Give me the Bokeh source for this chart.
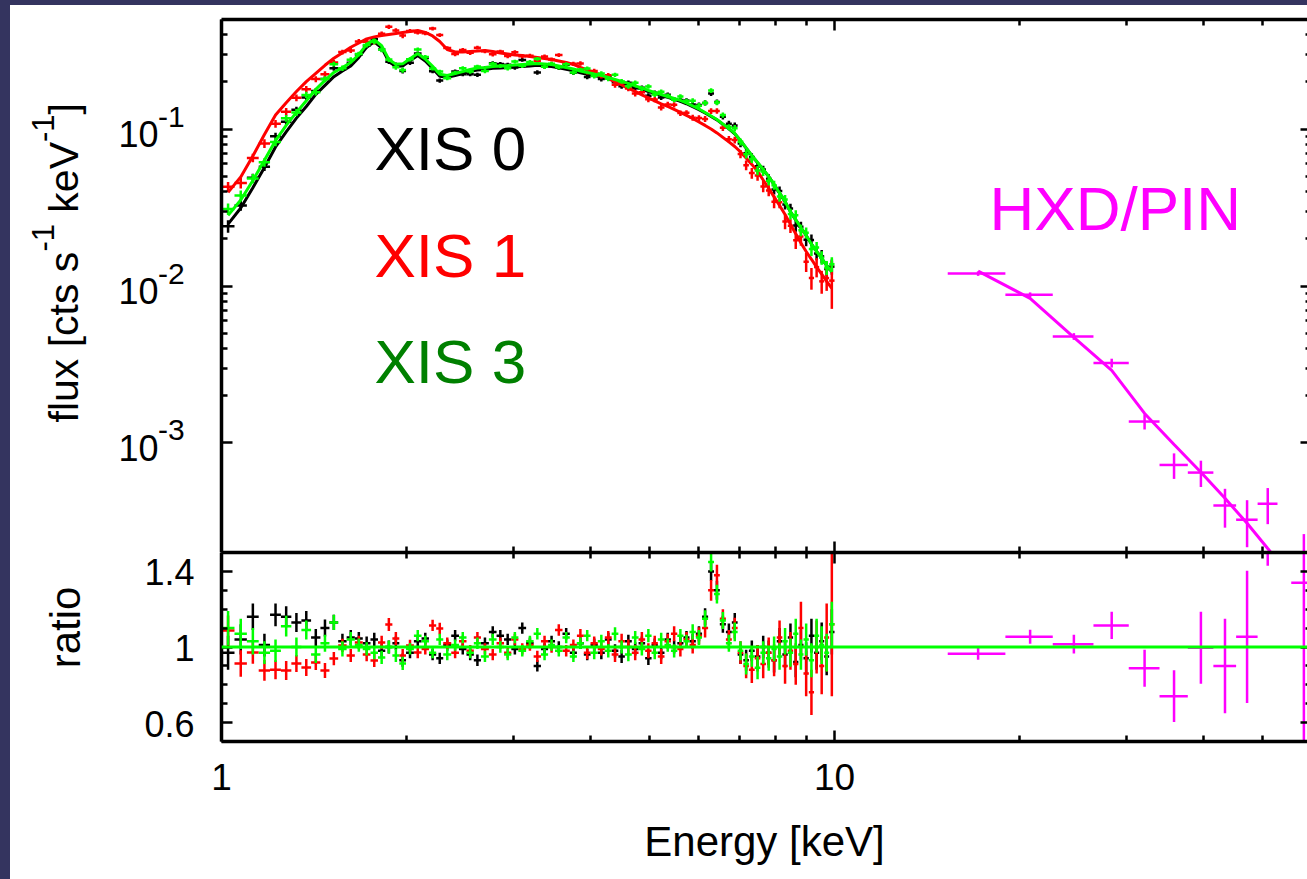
import math
import numpy as np
from bokeh.plotting import figure
from bokeh.layouts import column, row, Spacer
from bokeh.models import (LogAxis, LinearAxis, Range1d, FixedTicker, Label, Span,
                          CustomJSTickFormatter)
from bokeh.core.properties import value
from bokeh.embed import file_html
from bokeh.resources import INLINE

FONT = "Liberation Sans"
NAVY = "#34345f"

# ---------------- data ----------------
# XIS spectral bin edges [keV]
xis_edges = [
    1.00, 1.05, 1.10, 1.15, 1.20, 1.25, 1.30, 1.35, 1.40, 1.45,
    1.50, 1.55, 1.60, 1.65, 1.70, 1.75, 1.80, 1.85, 1.90, 1.95,
    2.00, 2.06, 2.12, 2.18, 2.24, 2.30, 2.37, 2.44, 2.51, 2.58,
    2.65, 2.73, 2.81, 2.89, 2.97, 3.05, 3.14, 3.23, 3.32, 3.41,
    3.50, 3.60, 3.70, 3.80, 3.90, 4.00, 4.11, 4.22, 4.33, 4.44,
    4.55, 4.67, 4.79, 4.91, 5.03, 5.15, 5.28, 5.41, 5.54, 5.67,
    5.80, 5.94, 6.08, 6.22, 6.36, 6.50, 6.65, 6.80, 6.95, 7.10,
    7.25, 7.41, 7.57, 7.73, 7.89, 8.05, 8.22, 8.39, 8.56, 8.73,
    8.90, 9.08, 9.26, 9.44, 9.62, 9.80, 10.0]

# folded model [cts/s/keV] at bin centres
xis0_model = [
    0.0248, 0.0314, 0.0423, 0.0570, 0.0770, 0.0961, 0.1176, 0.1395, 0.1666, 0.1901,
    0.2160, 0.2348, 0.2528, 0.2866, 0.3331, 0.3602, 0.3299, 0.2694, 0.2517, 0.2529,
    0.2730, 0.2947, 0.2718, 0.2439, 0.2171, 0.2140, 0.2200, 0.2265, 0.2335, 0.2385,
    0.2400, 0.2440, 0.2455, 0.2475, 0.2495, 0.2510, 0.2530, 0.2550, 0.2530, 0.2510,
    0.2460, 0.2405, 0.2355, 0.2290, 0.2240, 0.2195, 0.2150, 0.2090, 0.2030, 0.1975,
    0.1920, 0.1850, 0.1800, 0.1735, 0.1690, 0.1640, 0.1595, 0.1550, 0.1505, 0.1452,
    0.1392, 0.1332, 0.1267, 0.1204, 0.1145, 0.1072, 0.1004, 0.0934, 0.0843, 0.0756,
    0.0678, 0.0611, 0.0552, 0.0498, 0.0443, 0.0391, 0.0345, 0.0297, 0.0264, 0.0236,
    0.0210, 0.0185, 0.0166, 0.0150, 0.0135, 0.0123]
xis1_model = [
    0.0395, 0.0496, 0.0675, 0.0925, 0.1230, 0.1475, 0.1736, 0.2010, 0.2271, 0.2554,
    0.2830, 0.3074, 0.3327, 0.3540, 0.3760, 0.3875, 0.3955, 0.4014, 0.4073, 0.4133,
    0.4195, 0.4257, 0.4133, 0.3926, 0.3622, 0.3221, 0.3105, 0.3105, 0.3128, 0.3151,
    0.3174, 0.3128, 0.3060, 0.3015, 0.2971, 0.2949, 0.2906, 0.2864, 0.2822, 0.2781,
    0.2721, 0.2661, 0.2584, 0.2472, 0.2384, 0.2298, 0.2200, 0.2104, 0.1999, 0.1912,
    0.1817, 0.1739, 0.1652, 0.1581, 0.1513, 0.1447, 0.1395, 0.1335, 0.1278, 0.1223,
    0.1170, 0.1111, 0.1056, 0.1003, 0.0946, 0.0886, 0.0829, 0.0775, 0.0716, 0.0655,
    0.0596, 0.0538, 0.0474, 0.0419, 0.0370, 0.0326, 0.0286, 0.0247, 0.0215, 0.0188,
    0.0166, 0.0148, 0.0132, 0.0119, 0.0107, 0.00966]
xis3_model = [
    0.0282, 0.0353, 0.0470, 0.0633, 0.0846, 0.1056, 0.1278, 0.1516, 0.1791, 0.2044,
    0.2298, 0.2472, 0.2661, 0.2985, 0.3470, 0.3713, 0.3401, 0.2777, 0.2595, 0.2607,
    0.2814, 0.3038, 0.2802, 0.2514, 0.2238, 0.2200, 0.2265, 0.2332, 0.2401, 0.2455,
    0.2472, 0.2510, 0.2528, 0.2547, 0.2566, 0.2584, 0.2603, 0.2622, 0.2603, 0.2584,
    0.2528, 0.2472, 0.2419, 0.2349, 0.2298, 0.2248, 0.2200, 0.2136, 0.2074, 0.2014,
    0.1956, 0.1885, 0.1831, 0.1764, 0.1714, 0.1664, 0.1616, 0.1569, 0.1524, 0.1469,
    0.1406, 0.1345, 0.1278, 0.1214, 0.1153, 0.1079, 0.1010, 0.0939, 0.0847, 0.0759,
    0.0680, 0.0613, 0.0553, 0.0499, 0.0444, 0.0392, 0.0346, 0.0297, 0.0264, 0.0236,
    0.0210, 0.0185, 0.0166, 0.0150, 0.0135, 0.0123]

# data / model ratio
xis0_ratio = [
    0.97, 1.04, 1.16, 1.01, 1.17, 1.16, 1.13, 1.14, 1.05, 1.10,
    1.13, 1.03, 1.05, 1.045, 1.02, 1.04, 0.98, 1.00, 1.02, 0.93,
    0.97, 1.03, 1.045, 0.96, 0.94, 1.01, 1.06, 0.99, 0.96, 0.93,
    1.02, 1.08, 1.06, 1.04, 0.99, 1.10, 1.02, 0.90, 0.99, 1.03,
    1.00, 1.07, 0.97, 1.02, 0.96, 1.01, 0.97, 1.04, 0.98, 0.95,
    1.03, 0.99, 1.02, 0.94, 1.01, 0.97, 1.04, 1.00, 1.02, 1.05,
    1.03, 1.07, 1.16, 1.40, 1.30, 1.12, 1.08, 1.13, 0.96, 0.93,
    0.98, 0.95, 1.00, 0.97, 0.93, 1.03, 0.96, 1.05, 0.92, 1.01,
    0.94, 1.06, 0.97, 1.03, 0.95, 1.08]
xis1_ratio = [
    1.087, 0.913, 0.971, 0.876, 0.88, 0.876, 0.913, 0.892, 0.918, 0.876,
    0.939, 1.008, 0.955, 1.024, 0.96, 0.929, 1.024, 1.119, 1.045, 0.955,
    1.008, 0.971, 0.99, 1.114, 1.098, 1.02, 0.97, 1.03, 0.98, 1.05,
    0.99, 0.96, 1.02, 0.97, 1.04, 0.99, 1.01, 0.95, 1.03, 1.00,
    1.09, 0.98, 1.01, 1.06, 0.97, 1.02, 0.99, 1.05, 0.96, 1.03,
    1.00, 0.97, 1.04, 0.98, 1.02, 0.95, 1.03, 1.07, 0.99, 1.04,
    1.01, 1.06, 1.10, 1.30, 1.38, 1.15, 1.04, 1.10, 0.97, 0.90,
    0.88, 0.94, 0.91, 0.97, 0.93, 1.05, 0.90, 0.98, 0.91, 1.10,
    0.86, 0.76, 1.00, 0.90, 1.05, 1.12]
xis3_ratio = [
    1.10, 1.07, 1.03, 0.97, 0.98, 1.11, 1.00, 1.09, 0.96, 1.02,
    1.13, 0.99, 1.04, 1.01, 0.99, 0.97, 0.945, 1.00, 0.955, 0.913,
    0.99, 1.06, 1.03, 0.97, 1.04, 0.96, 1.01, 1.05, 0.97, 1.02,
    0.95, 1.04, 1.00, 0.96, 1.05, 0.98, 1.03, 1.07, 0.96, 1.01,
    0.98, 1.05, 0.95, 1.02, 1.06, 0.97, 1.03, 0.98, 1.07, 1.00,
    0.96, 1.05, 0.99, 1.06, 0.97, 1.04, 1.01, 0.98, 1.06, 1.03,
    1.08, 1.05, 1.15, 1.45, 1.28, 1.14, 1.02, 1.08, 0.98, 0.91,
    0.95, 0.89, 0.97, 0.94, 0.99, 0.95, 1.03, 0.97, 1.07, 0.96,
    1.04, 0.93, 1.06, 1.01, 0.97, 1.12]

# 1-sigma errors on the ratio
xis_fi_err = [
    0.09, 0.08, 0.07, 0.06, 0.06, 0.055, 0.05, 0.05, 0.045, 0.045,
    0.04, 0.04, 0.04, 0.035, 0.035, 0.035, 0.035, 0.035, 0.035, 0.035,
    0.03, 0.03, 0.03, 0.03, 0.03, 0.03, 0.03, 0.03, 0.03, 0.03,
    0.03, 0.03, 0.03, 0.03, 0.03, 0.03, 0.03, 0.03, 0.03, 0.03,
    0.03, 0.03, 0.03, 0.03, 0.03, 0.035, 0.035, 0.035, 0.035, 0.035,
    0.035, 0.035, 0.035, 0.035, 0.035, 0.035, 0.035, 0.035, 0.035, 0.035,
    0.04, 0.04, 0.045, 0.05, 0.05, 0.045, 0.045, 0.05, 0.05, 0.055,
    0.055, 0.06, 0.06, 0.065, 0.065, 0.07, 0.07, 0.075, 0.08, 0.08,
    0.085, 0.09, 0.09, 0.10, 0.10, 0.12]
xis_bi_err = [
    0.08, 0.07, 0.06, 0.055, 0.05, 0.05, 0.045, 0.045, 0.04, 0.04,
    0.035, 0.035, 0.035, 0.035, 0.035, 0.035, 0.035, 0.035, 0.035, 0.035,
    0.03, 0.03, 0.03, 0.03, 0.03, 0.03, 0.03, 0.03, 0.03, 0.03,
    0.03, 0.03, 0.03, 0.03, 0.03, 0.03, 0.03, 0.03, 0.03, 0.03,
    0.03, 0.03, 0.03, 0.035, 0.035, 0.035, 0.035, 0.035, 0.04, 0.04,
    0.04, 0.04, 0.04, 0.04, 0.04, 0.04, 0.04, 0.04, 0.04, 0.04,
    0.045, 0.045, 0.05, 0.055, 0.055, 0.05, 0.05, 0.055, 0.06, 0.065,
    0.07, 0.07, 0.075, 0.08, 0.085, 0.09, 0.095, 0.10, 0.11, 0.14,
    0.12, 0.12, 0.14, 0.15, 0.18, 0.38]

# HXD/PIN
pin_lo = [15.3, 19.0, 22.7, 26.45, 30.2, 33.9, 37.7, 41.5, 45.2, 49.0, 55.6]
pin_hi = [19.0, 22.7, 26.45, 30.2, 33.9, 37.7, 41.5, 45.2, 49.0, 52.8, 61.0]
pin_model = [0.01245, 0.00834, 0.00470, 0.00290, 0.00154, 0.000977, 0.000649,
             0.000443, 0.000307, 0.000212, 0.000112]
pin_ratio = [0.964, 1.054, 1.015, 1.114, 0.888, 0.74, 0.996, 0.90, 1.054, 1.93, 1.34]
pin_err = [0.032, 0.037, 0.05, 0.072, 0.098, 0.137, 0.19, 0.25, 0.35, 0.5, 1.0]

# axis ticks / labels
energy_major = [1, 10]
energy_minor = [2, 3, 4, 5, 6, 7, 8, 9, 20, 30, 40, 50]
flux_major = [1e-3, 1e-2, 1e-1]
flux_minor = [2e-3, 3e-3, 4e-3, 5e-3, 6e-3, 7e-3, 8e-3, 9e-3,
              2e-2, 3e-2, 4e-2, 5e-2, 6e-2, 7e-2, 8e-2, 9e-2, 0.2, 0.3, 0.4]
ratio_major = [0.6, 1.0, 1.4]
ratio_minor = [0.5, 0.7, 0.8, 0.9, 1.1, 1.2, 1.3, 1.5]

# ---------------- figures ----------------
xr = Range1d(1, 59.1)
yr_flux = Range1d(2e-4, 0.5)
yr_ratio = Range1d(0.5, 1.5)

base = dict(output_backend="svg", toolbar_location=None,
            x_axis_location=None, y_axis_location=None,
            background_fill_color="white", border_fill_color="white",
            outline_line_color=None, min_border_right=0)

# plotting panels (frame starts at window x = 221)
p1 = figure(width=1102, height=547, x_axis_type="log", y_axis_type="log",
            x_range=xr, y_range=yr_flux, min_border_left=16,
            min_border_top=14, min_border_bottom=0, **base)
p2 = figure(width=1102, height=327, x_axis_type="log",
            x_range=xr, y_range=yr_ratio, min_border_left=16,
            min_border_top=0, min_border_bottom=138, **base)
# label strips to the left, sharing the y scales (x in page pixels 10..205)
q1 = figure(width=195, height=547, y_axis_type="log", x_range=Range1d(10, 205),
            y_range=yr_flux, min_border_left=0, min_border_top=14,
            min_border_bottom=0, **base)
q2 = figure(width=195, height=327, x_range=Range1d(10, 205), y_range=yr_ratio,
            min_border_left=0, min_border_top=0, min_border_bottom=138, **base)
for p in (p1, p2, q1, q2):
    p.xgrid.visible = False
    p.ygrid.visible = False

blank = CustomJSTickFormatter(code="return ''")


def style_axis(ax, major_in, minor_in, line=True, labels=False, size="36px"):
    ax.major_tick_in = major_in
    ax.major_tick_out = 0
    ax.minor_tick_in = minor_in
    ax.minor_tick_out = 0
    ax.major_tick_line_width = 2.5
    ax.minor_tick_line_width = 2.5
    ax.major_tick_line_color = "black"
    ax.minor_tick_line_color = "black"
    if line:
        ax.axis_line_width = 3.5
        ax.axis_line_color = "black"
    else:
        ax.axis_line_color = None
    if labels:
        ax.major_label_text_font = FONT
        ax.major_label_text_font_size = size
        ax.major_label_text_color = "black"
    else:
        ax.major_label_text_font_size = "0px"
        ax.major_label_standoff = 0
    return ax


def eticker():
    return FixedTicker(ticks=energy_major, minor_ticks=energy_minor)


def fticker():
    return FixedTicker(ticks=flux_major, minor_ticks=flux_minor)


def rticker():
    return FixedTicker(ticks=ratio_major, minor_ticks=ratio_minor)


# top panel axes (tick marks only; labels drawn in q1)
p1.add_layout(style_axis(LogAxis(ticker=fticker(), formatter=blank), 11, 6), "left")
p1.add_layout(style_axis(LogAxis(ticker=fticker(), formatter=blank), 7, 2, line=False), "right")
p1.add_layout(style_axis(LogAxis(ticker=eticker(), formatter=blank), 11, 6), "above")
p1.add_layout(style_axis(LogAxis(ticker=eticker(), formatter=blank), 11, 6), "below")

# ratio panel axes
p2.add_layout(style_axis(LinearAxis(ticker=rticker(), formatter=blank), 11, 6), "left")
p2.add_layout(style_axis(LinearAxis(ticker=rticker(), formatter=blank), 7, 2, line=False), "right")
p2.add_layout(style_axis(LogAxis(ticker=eticker(), formatter=blank), 11, 6), "above")
efmt = CustomJSTickFormatter(code="return String(Math.round(tick))")
ax = style_axis(LogAxis(ticker=eticker(), formatter=efmt), 11, 6, labels=True, size="37px")
ax.major_label_standoff = 22
ax.axis_label = "Energy [keV]"
ax.axis_label_text_font = FONT
ax.axis_label_text_font_size = "42px"
ax.axis_label_text_font_style = "normal"
ax.axis_label_text_color = "black"
ax.axis_label_standoff = 25
p2.add_layout(ax, "below")

# ---------------- data drawing ----------------
edges = np.array(xis_edges)
lo, hi = edges[:-1], edges[1:]
mid = 0.5 * (lo + hi)


def draw_xis(model, ratio, err, color):
    m = np.array(model)
    r = np.array(ratio)
    s = np.array(err)
    flux = m * r
    ferr = m * s
    p1.segment(x0=lo, y0=flux, x1=hi, y1=flux, line_color=color, line_width=2.5)
    p1.segment(x0=mid, y0=flux - ferr, x1=mid, y1=flux + ferr, line_color=color, line_width=2.5)
    p1.line(x=mid, y=m, line_color=color, line_width=3)
    p2.segment(x0=lo, y0=r, x1=hi, y1=r, line_color=color, line_width=2.5)
    p2.segment(x0=mid, y0=r - s, x1=mid, y1=r + s, line_color=color, line_width=2.5)


draw_xis(xis0_model, xis0_ratio, xis_fi_err, "#000000")
draw_xis(xis1_model, xis1_ratio, xis_bi_err, "#ff0000")
draw_xis(xis3_model, xis3_ratio, xis_fi_err, "#00ff00")

plo, phi = np.array(pin_lo), np.array(pin_hi)
pmid = 0.5 * (plo + phi)
pm, pr, pe = np.array(pin_model), np.array(pin_ratio), np.array(pin_err)
pflux, pferr = pm * pr, pm * pe
MAG = "#ff00ff"
p1.segment(x0=plo, y0=pflux, x1=phi, y1=pflux, line_color=MAG, line_width=2.5)
p1.segment(x0=pmid, y0=pflux - pferr, x1=pmid, y1=pflux + pferr, line_color=MAG, line_width=2.5)
p1.line(x=pmid, y=pm, line_color=MAG, line_width=3)
p2.segment(x0=plo, y0=pr, x1=phi, y1=pr, line_color=MAG, line_width=2.5)
p2.segment(x0=pmid, y0=pr - pe, x1=pmid, y1=pr + pe, line_color=MAG, line_width=2.5)

p2.add_layout(Span(location=1.0, dimension="width", line_color="#00ff00", line_width=3))

# ---------------- texts in the panels ----------------
def lab(p, text, xo, yo, size, color="black", y=0.01):
    p.add_layout(Label(x=1, y=y, x_units="data", y_units="data", x_offset=xo, y_offset=yo,
                       text=text, text_font=FONT, text_font_size=size, text_color=color,
                       text_align="left", text_baseline="middle"))


lab(p1, "XIS 0", 153, 137.2, "62px", "#000000")
lab(p1, "XIS 1", 153, 30.2, "62px", "#ff0000")
lab(p1, "XIS 3", 153, -75.8, "62px", "#008000")
lab(p1, "HXD/PIN", 768, 77.2, "62px", MAG)

# ---------------- tick labels and axis titles (label strips) ----------------
def txt(p, xs, ys, texts, size, align="left", yoff=0.0, angle=0.0):
    p.text(x=xs, y=ys, text=texts, text_font=value(FONT), text_font_size=value(size),
           text_color="black", text_align=align, text_baseline="middle",
           y_offset=yoff, angle=angle)


# 10^n labels
n = len(flux_major)
exps = [str(int(round(math.log10(v)))) for v in flux_major]
txt(q1, [158.0] * n, flux_major, ["10"] * n, "36px", align="right", yoff=5.1)
txt(q1, [157.5] * n, flux_major, exps, "30px", align="left", yoff=-12.5)

# ratio labels
rl = [f"{v:g}" for v in ratio_major]
txt(q2, [194.0] * len(ratio_major), ratio_major, rl, "36px", align="right", yoff=0.9)

# rotated titles (text runs upward); pieces for the superscripts
R = math.pi / 2
MAIN, SUP = 41, 31
w1 = 4.168 * MAIN
wsup = 0.889 * SUP
wsp = 0.278 * MAIN
wkev = 1.723 * MAIN
yc = math.sqrt(yr_flux.start * yr_flux.end)   # centre of the flux frame
o0 = 136.5
o1 = o0 - w1
o2 = o1 - wsup - wsp
o3 = o2 - wkev
o4 = o3 - wsup
xm = 78 - 0.35 * MAIN
xs = 53 - 0.35 * SUP
txt(q1, [xm], [yc], ["flux [cts s"], f"{MAIN}px", yoff=o0, angle=R)
txt(q1, [xs], [yc], ["-1"], f"{SUP}px", yoff=o1, angle=R)
txt(q1, [xm], [yc], ["keV"], f"{MAIN}px", yoff=o2, angle=R)
txt(q1, [xs], [yc], ["-1"], f"{SUP}px", yoff=o3, angle=R)
txt(q1, [xm], [yc], ["]"], f"{MAIN}px", yoff=o4, angle=R)

q2.text(x=[80 - 0.35 * 42], y=[1.0], text=["ratio"], text_font=value(FONT),
        text_font_size=value("42px"), text_color="black", text_align="center",
        text_baseline="middle", y_offset=-19.5, angle=R)

# ---------------- layout ----------------
top_strip = Spacer(width=1307, height=5, styles={"background-color": NAVY})
left_strip = Spacer(width=10, height=874, styles={"background-color": NAVY})
root = column(top_strip, row(left_strip, column(q1, q2), column(p1, p2)))

open("out.html", "w").write(file_html(root, INLINE))
